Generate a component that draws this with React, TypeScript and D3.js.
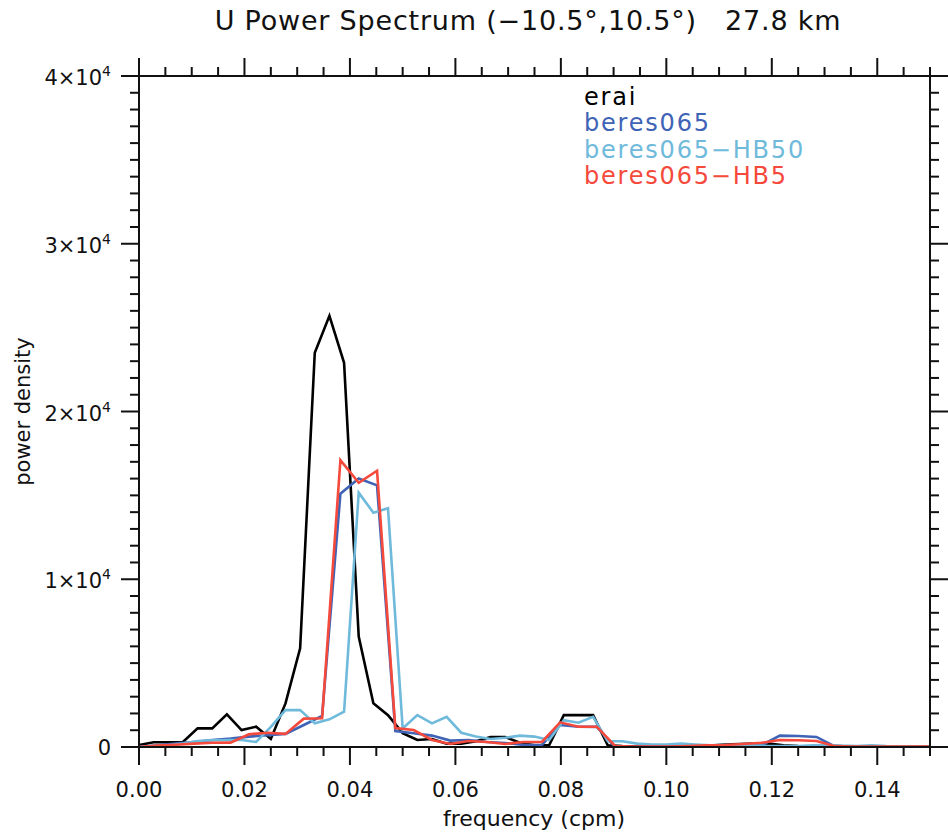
import React from "react";
import * as d3 from "d3";

// Frequencies: erai & HB50 on a 1/360 cpm grid, beres065 & HB5 on a 1/288 cpm grid
const eraiValues = [
  119, 280, 280, 300, 1110, 1110, 1950, 1010, 1210, 480, 2600, 5880, 23500, 25700, 22900, 6580,
  2600, 1900, 830, 420, 480, 200, 200, 350, 600, 600, 250, 100, 100, 1900, 1900, 1900,
  100, 50, 30, 30, 30, 30, 50, 80, 150, 180, 200, 200, 100, 50, 30, 20, 10, 10, 10, 10, 10, 10, 10,
];
const hb50Values = [
  0, 50, 100, 200, 360, 400, 420, 420, 300, 1200, 2200, 2200, 1410, 1650, 2100, 15160,
  13970, 14230, 1100, 1900, 1410, 1800, 850, 620, 480, 550, 680, 620, 420, 1600, 1450, 1800,
  340, 340, 200, 150, 150, 200, 150, 100, 120, 100, 80, 60, 50, 60, 100, 120, 80, 60, 100, 60, 40, 30, 30,
];
const beresValues = [
  0, 100, 200, 300, 420, 500, 620, 700, 780, 1310, 1850, 15100, 16000, 15600, 950, 815,
  680, 380, 420, 300, 240, 120, 120, 1310, 1210, 1200, 0, 0, 20, 30, 40, 50,
  80, 100, 100, 680, 660, 600, 30, 10, 10, 10, 10, 10, 10,
];
const hb5Values = [
  0, 80, 130, 200, 250, 260, 760, 850, 780, 1690, 1710, 17100, 15750, 16470, 1130, 1010,
  420, 180, 360, 300, 180, 300, 300, 1470, 1210, 1210, 60, 30, 30, 30, 60, 100,
  120, 180, 250, 420, 400, 360, 50, 20, 20, 20, 20, 20, 20,
];

const seriesNames = ["erai", "beres065", "beres065\u2212HB50", "beres065\u2212HB5"];
const seriesColors = ["#000000", "#3f63b5", "#6fbadb", "#f5493c"];
const seriesSteps = [360, 288, 360, 288];
const seriesValues = [eraiValues, beresValues, hb50Values, hb5Values];

const xMajorTicks = [0, 0.02, 0.04, 0.06, 0.08, 0.1, 0.12, 0.14];
const xTickLabels = ["0.00", "0.02", "0.04", "0.06", "0.08", "0.10", "0.12", "0.14"];
const yMajorTicks = [0, 10000, 20000, 30000, 40000];
const yTickMantissa = ["0", "1", "2", "3", "4"];

const W = 948;
const H = 832;
const left = 139;
const right = 930;
const top = 76;
const bottom = 747;

export default function App() {
  const x = d3.scaleLinear().domain([0, 0.15]).range([left, right]);
  const y = d3.scaleLinear().domain([0, 40000]).range([bottom, top]);

  const xMinor = d3.range(0, 0.15001, 0.005);
  const yMinor = d3.range(0, 40001, 1000);

  const line = d3
    .line<[number, number]>()
    .x((d) => x(d[0]))
    .y((d) => y(d[1]));

  const font = "DejaVu Sans";
  const majorLen = 18;
  const minorLen = 9;

  return (
    <svg
      width={W}
      height={H}
      style={{ position: "absolute", left: 0, top: 0, background: "#fff" }}
      fontFamily={font}
    >
      <defs>
        <clipPath id="plotclip">
          <rect x={left} y={top} width={right - left} height={bottom - top} />
        </clipPath>
      </defs>
      <rect x={0} y={0} width={W} height={H} fill="#fff" />

      {/* title */}
      <text
        x={528}
        y={30}
        fontSize={27}
        letterSpacing={0.8}
        textAnchor="middle"
        fill="#111"
        style={{ whiteSpace: "pre" }}
      >
        {"U Power Spectrum (\u221210.5\u00b0,10.5\u00b0)   27.8 km"}
      </text>

      {/* series */}
      <g clipPath="url(#plotclip)">
        {seriesValues.map((vals, i) => {
          const pts: [number, number][] = vals.map((v, k) => [k / seriesSteps[i], v]);
          return (
            <path
              key={i}
              d={line(pts) || ""}
              fill="none"
              stroke={seriesColors[i]}
              strokeWidth={2.6}
              strokeLinejoin="miter"
            />
          );
        })}
      </g>

      {/* frame */}
      <rect x={left} y={top} width={right - left} height={bottom - top} fill="none" stroke="#111" strokeWidth={2} />

      {/* x ticks bottom & top */}
      {xMinor.map((t, i) => {
        const isMajor = Math.abs(t / 0.02 - Math.round(t / 0.02)) < 1e-6;
        const len = isMajor ? majorLen : minorLen;
        return (
          <g key={"xt" + i} stroke="#111" strokeWidth={2}>
            <line x1={x(t)} x2={x(t)} y1={bottom} y2={bottom + len} />
            <line x1={x(t)} x2={x(t)} y1={top} y2={top - len} />
          </g>
        );
      })}
      {/* y ticks left & right */}
      {yMinor.map((t, i) => {
        const isMajor = t % 10000 === 0;
        const len = isMajor ? majorLen : minorLen;
        return (
          <g key={"yt" + i} stroke="#111" strokeWidth={2}>
            <line x1={left} x2={left - len} y1={y(t)} y2={y(t)} />
            <line x1={right} x2={right + len} y1={y(t)} y2={y(t)} />
          </g>
        );
      })}

      {/* x tick labels */}
      {xMajorTicks.map((t, i) => (
        <text key={"xl" + i} x={x(t)} y={797} fontSize={21} textAnchor="middle" fill="#111">
          {xTickLabels[i]}
        </text>
      ))}
      {/* y tick labels */}
      {yMajorTicks.map((t, i) =>
        t === 0 ? (
          <text key={"yl" + i} x={111} y={y(t) + 7.5} fontSize={21} textAnchor="end" fill="#111">
            {yTickMantissa[i]}
          </text>
        ) : (
          <text key={"yl" + i} x={111} y={y(t) + 9} fontSize={21} textAnchor="end" fill="#111">
            {yTickMantissa[i]}×10
            <tspan fontSize={14} dy={-9}>4</tspan>
          </text>
        )
      )}

      {/* axis titles */}
      <text x={534} y={826} fontSize={22} textAnchor="middle" fill="#111">
        frequency (cpm)
      </text>
      <text
        transform={`translate(30,${(top + bottom) / 2}) rotate(-90)`}
        fontSize={21}
        textAnchor="middle"
        fill="#111"
      >
        power density
      </text>

      {/* legend */}
      {seriesNames.map((n, i) => (
        <text
          key={"lg" + i}
          x={584}
          y={105 + i * 26.3}
          fontSize={24}
          letterSpacing={1.8}
          fill={seriesColors[i]}
        >
          {n}
        </text>
      ))}
    </svg>
  );
}
